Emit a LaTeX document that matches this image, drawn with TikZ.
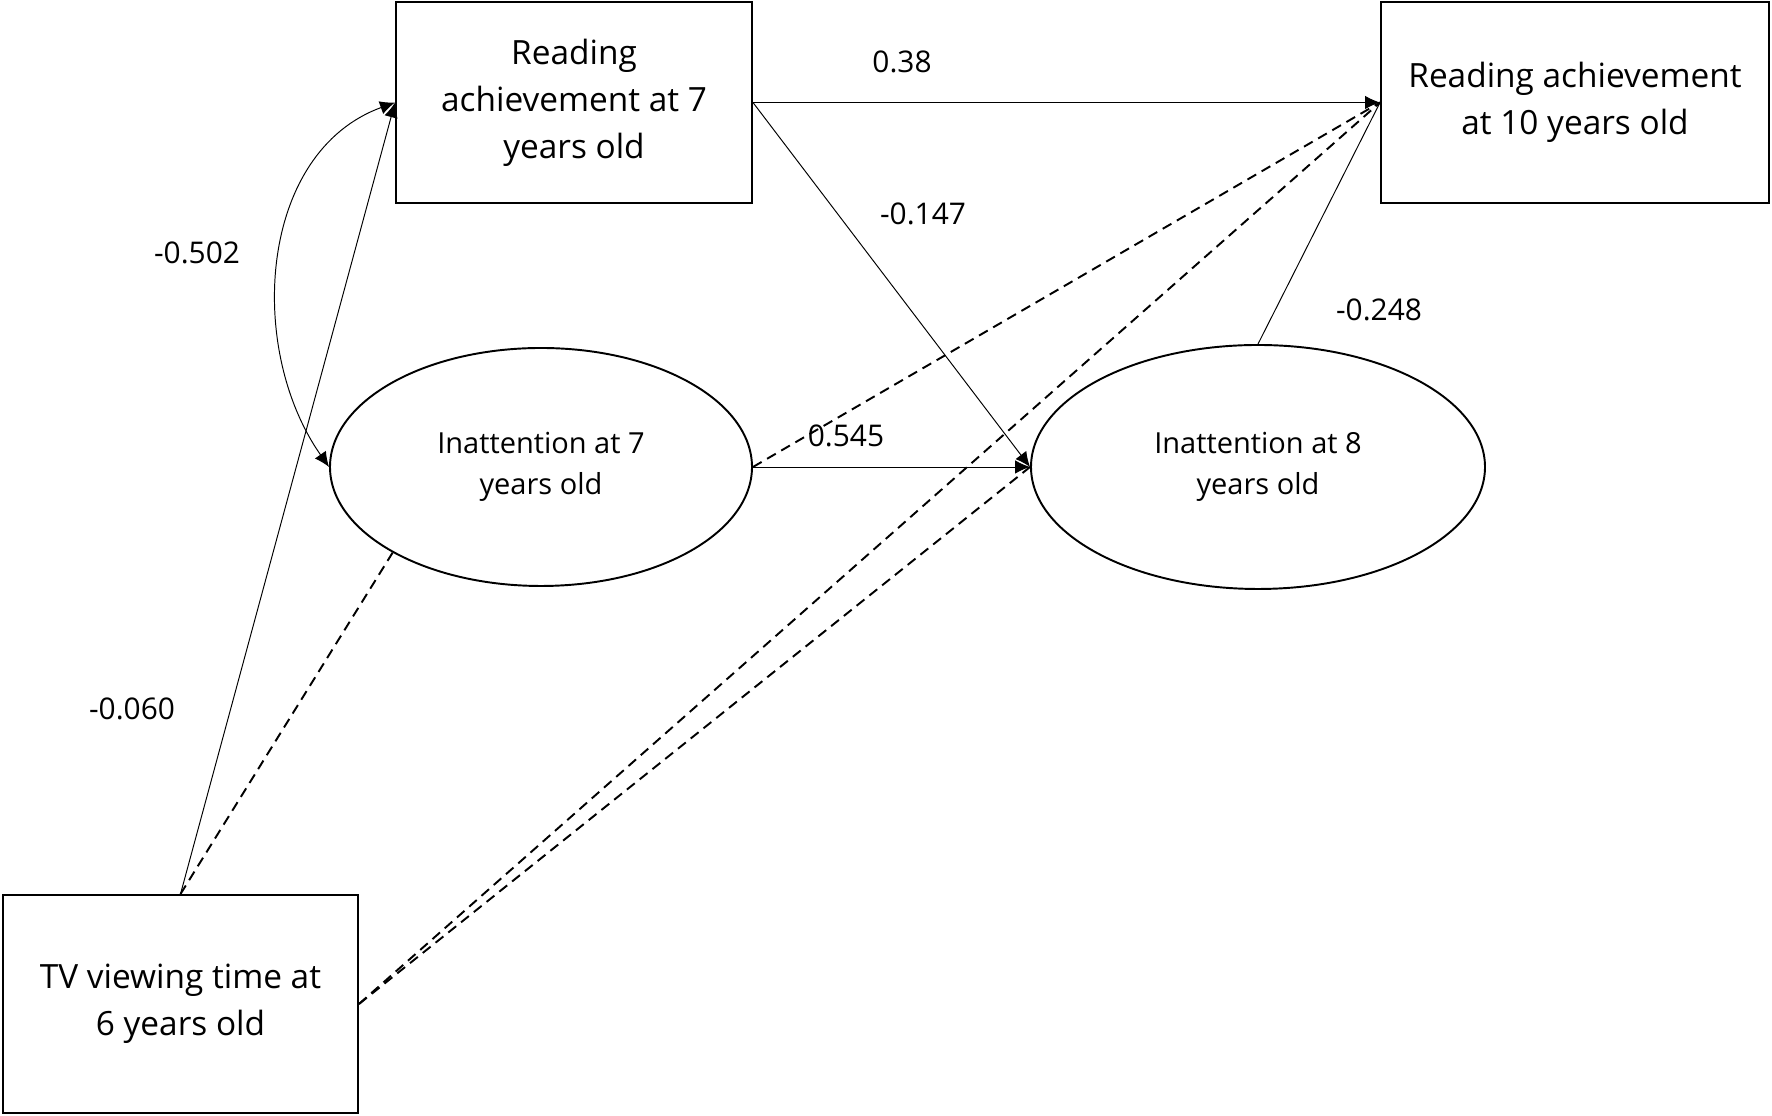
\documentclass[tikz,border=0pt]{standalone}
\usepackage{fontspec}
\setmainfont{Open Sans}
\usetikzlibrary{arrows.meta,shapes.geometric}
\begin{document}
\begin{tikzpicture}[
  box/.style={draw,line width=1.1pt,minimum width=#1,minimum height=4.02cm,align=center,font=\fontsize{19}{26.7}\selectfont},
  oval/.style={draw,ellipse,line width=1.1pt,align=center,font=\fontsize{16.5}{23}\selectfont},
  arr/.style={line width=0.55pt,-{Latex[length=0.3cm,width=0.27cm]}},
  dsh/.style={line width=1.1pt,dash pattern=on 5.7pt off 3.6pt},
  lbl/.style={font=\fontsize{17}{20}\selectfont}
]
\useasboundingbox (0,0) rectangle (35.44,22.32);
% boxes and ellipses
\node[box=7.12cm] (read7) at (11.48,20.27) {Reading\\achievement at 7\\years old};
\node[box=7.76cm] (read10) at (31.5,20.27) {Reading achievement\\at 10 years old};
\node[box=7.1cm,minimum height=4.36cm] (tv) at (3.61,2.24) {TV viewing time at\\6 years old};
\node[oval,minimum width=8.44cm,minimum height=4.76cm] (inat7) at (10.82,12.98) {Inattention at 7\\years old};
\node[oval,minimum width=9.08cm,minimum height=4.88cm] (inat8) at (25.16,12.98) {Inattention at 8\\years old};
% solid paths
\draw[arr] (read7.east) -- (read10.west);
\draw[arr] (read7.east) -- (inat8.west);
\draw[arr] (inat7.east) -- (inat8.west);
\draw[line width=0.55pt] (inat8.north) -- (read10.west);
\draw[arr] (tv.north) -- (read7.west);
\draw[line width=0.55pt,{Latex[length=0.3cm,width=0.27cm]}-{Latex[length=0.3cm,width=0.27cm]}] (read7.west) to[out=200,in=125] (inat7.west);
% dashed paths
\draw[dsh] (inat7.east) -- (read10.west);
\draw[dsh] (tv.north) -- (inat7.210);
\draw[dsh] (tv.east) -- (read10.west);
\draw[dsh] (tv.east) -- (inat8.west);
% coefficients
\node[lbl] at (18.04,21.08) {0.38};
\node[lbl] at (18.46,18.04) {-0.147};
\node[lbl] at (3.94,17.26) {-0.502};
\node[lbl] at (27.58,16.12) {-0.248};
\node[lbl] at (16.92,13.6) {0.545};
\node[lbl] at (2.64,8.14) {-0.060};
\end{tikzpicture}
\end{document}
